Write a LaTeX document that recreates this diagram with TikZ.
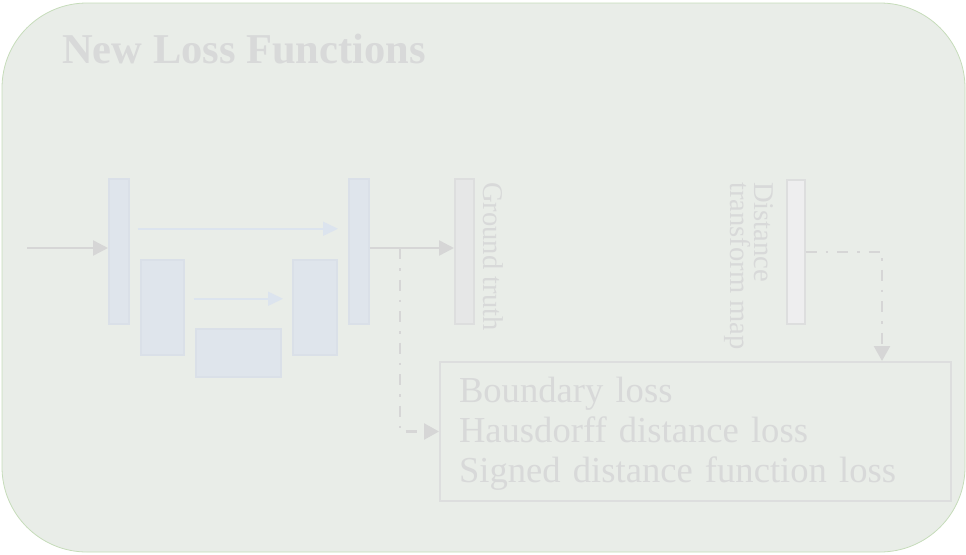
\documentclass[tikz,border=0pt]{standalone}
\usepackage{fontspec}
\setmainfont{Liberation Serif}
\usepackage{tikz}
\usetikzlibrary{arrows.meta, positioning, calc}
\usepackage{xcolor}
\definecolor{panel}{HTML}{E9EDE8}
\definecolor{panelline}{HTML}{C6DCBA}
\definecolor{unetfill}{HTML}{DFE5EC}
\definecolor{unetline}{HTML}{DAE0E8}
\definecolor{gtfill}{HTML}{E6E7E7}
\definecolor{dtfill}{HTML}{EEEEEF}
\definecolor{boxline}{HTML}{DDDEDE}
\definecolor{fadetext}{HTML}{D8D9D9}
\definecolor{fadearr}{HTML}{D6D6D6}
\definecolor{skipblue}{HTML}{DCE4EE}

\begin{document}
\begin{tikzpicture}[
  x=1pt, y=-1pt,
  blk/.style={rectangle, fill=unetfill, draw=unetline, line width=1.5pt, inner sep=0pt, anchor=north west},
  gtbox/.style={blk, fill=gtfill, draw=boxline},
  dtbox/.style={blk, fill=dtfill, draw=boxline},
  garr/.style={-{Triangle[length=15pt, width=15pt]}, line width=2.5pt, fadearr},
  skiparr/.style={-{Triangle[length=15pt, width=14pt]}, line width=1.5pt, skipblue},
  dd/.style={-{Triangle[length=15pt, width=16pt]}, line width=2.5pt, fadearr, dash pattern=on 11pt off 9pt on 2.5pt off 9pt},
  lbl/.style={font=\fontsize{28.6}{24}\selectfont, text=fadetext, inner sep=0pt}
]
\useasboundingbox (0,0) rectangle (966,554);

% Panel
\draw[fill=panel, draw=panelline, line width=0.8pt, rounded corners=85pt] (2,3) rectangle (965,552);
\node[anchor=base west, inner sep=0pt, font=\fontsize{42.5}{48}\selectfont\bfseries, text=fadetext] (title) at (62,63) {New Loss Functions};

% U-Net
\node[blk, minimum width=20, minimum height=145] (e1) at (108,178) {};
\node[blk, minimum width=43, minimum height=95] (e2) at (140,259) {};
\node[blk, minimum width=85, minimum height=48] (bn) at (195,328) {};
\node[blk, minimum width=44, minimum height=95] (d2) at (292,259) {};
\node[blk, minimum width=20, minimum height=145] (d1) at (348,178) {};

\draw[skiparr] ([xshift=8pt, yshift=22.5pt]e1.east) -- ([xshift=-10pt, yshift=22.5pt]d1.west);
\draw[skiparr] ([xshift=9pt, yshift=8.5pt]e2.east) -- ([xshift=-9pt, yshift=8.5pt]d2.west);

% Maps
\node[gtbox, minimum width=19, minimum height=145] (gt) at (454,178) {};
\node[lbl, rotate=-90, anchor=base west] (gtl) at (483,182) {Ground truth};
\node[dtbox, minimum width=18, minimum height=144] (dt) at (786,179) {};
\node[lbl, rotate=-90, anchor=north west, align=left] (dtl) at (774,182) {Distance\\transform map};

% Losses
\node[rectangle, draw=boxline, line width=2pt, anchor=north west, minimum width=511, minimum height=139,
      text width=473pt, inner xsep=19pt, align=left, text=fadetext,
      font=\fontsize{36.6}{40}\selectfont] (loss) at (439,361)
  {\rule{0pt}{30pt}Boundary loss\\Hausdorff distance loss\\Signed distance function loss};

% Arrows
\coordinate (in) at (27,248);
\coordinate (br) at (400,248);
\draw[garr] (in) -- (in -| e1.west);
\draw[garr] (in -| d1.east) -- (in -| gt.west);
\draw[dd] (br) |- (loss.west);
\draw[dd] (dt.east) -| ([xshift=-70pt]loss.north east);
\end{tikzpicture}
\end{document}
